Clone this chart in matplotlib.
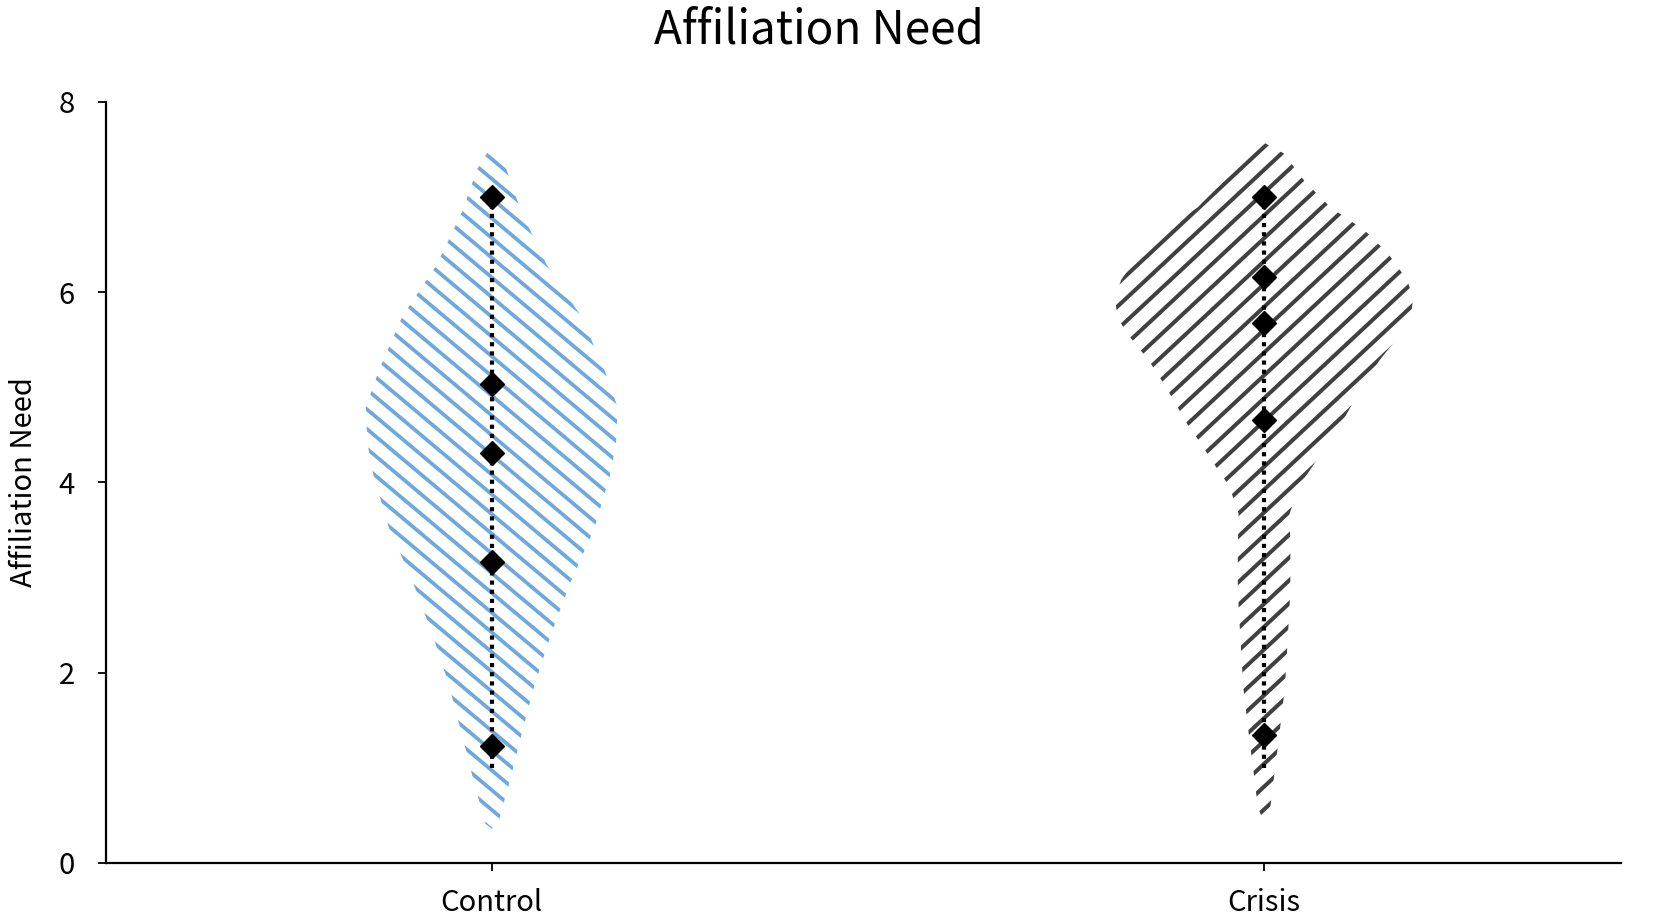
import numpy as np
import matplotlib
matplotlib.use("Agg")
import matplotlib.pyplot as plt
from matplotlib.patches import Polygon
from matplotlib.collections import LineCollection

plt.rcParams['font.family'] = ['Noto Sans CJK SC', 'DejaVu Sans']

# ---------------------------------------------------------------- data
groups = ["Control", "Crisis"]

control_points = [7.0, 5.03, 4.31, 3.16, 1.23]
crisis_points = [7.0, 6.16, 5.67, 4.66, 1.35]
control_range = [1.0, 7.0]
crisis_range = [1.0, 7.0]

# violin outlines: height and half width
control_y = [0.36, 0.41, 0.85, 1.30, 1.86, 2.41, 2.97, 3.52, 4.07, 4.41, 4.79,
             5.18, 5.74, 6.29, 6.85, 7.29, 7.54]
control_w = [0.0, 0.008, 0.023, 0.037, 0.055, 0.077, 0.103, 0.133, 0.153, 0.161,
             0.163, 0.146, 0.116, 0.071, 0.038, 0.019, 0.0]

crisis_y = [0.43, 0.58, 0.85, 1.30, 1.85, 2.41, 2.85, 3.30, 3.67, 3.96, 4.16, 4.41,
            4.62, 4.85, 5.09, 5.29, 5.57, 5.74, 5.94, 6.13, 6.40, 6.65, 6.89,
            7.16, 7.46, 7.57]
crisis_w = [0.0, 0.008, 0.012, 0.019, 0.027, 0.031, 0.034, 0.034, 0.033, 0.045,
            0.062, 0.082, 0.100, 0.116, 0.134, 0.150, 0.178, 0.190, 0.193, 0.185,
            0.161, 0.130, 0.086, 0.053, 0.025, 0.0]

# ---------------------------------------------------------------- figure
W, H, DPI = 1654, 917, 100
fig = plt.figure(figsize=(W / DPI, H / DPI), dpi=DPI)
pos = [0.0638, 0.0589, 0.9162, 0.8301]
ax = fig.add_axes(pos)
xlim = (-0.5, 1.462)
ylim = (0, 8)

ppx = pos[2] * W / (xlim[1] - xlim[0])
ppy = pos[3] * H / (ylim[1] - ylim[0])


def hatch_violin(xc, ys, ws, color, angle, step_px, lw, direction):
    ys = np.asarray(ys)
    ws = np.asarray(ws)
    verts = list(zip(xc + ws, ys)) + list(zip(xc - ws[::-1], ys[::-1]))
    poly = Polygon(verts, closed=True, fc="none", ec="none")
    ax.add_patch(poly)
    t = np.tan(np.radians(angle))
    slope = direction * t * ppx / ppy
    dy = step_px * t / ppy
    half = 0.3
    segs = [[(xc - half, y0 - slope * half), (xc + half, y0 + slope * half)]
            for y0 in np.arange(-4, 12, dy)]
    lc = LineCollection(segs, colors=color, linewidths=lw, capstyle="butt")
    lc.set_clip_path(poly)
    ax.add_collection(lc, autolim=False)


hatch_violin(0, control_y, control_w, "#6fa8dc", 40, 23.5, 2.7, -1)
hatch_violin(1, crisis_y, crisis_w, "#404040", 43, 24.5, 2.9, 1)

for i, (pts, rng) in enumerate([(control_points, control_range),
                                (crisis_points, crisis_range)]):
    ax.plot([i, i], rng, color="black", lw=3.0, linestyle=(0, (1, 1.2)), zorder=3)
    ax.plot([i] * len(pts), pts, linestyle="none", marker="D", ms=12,
            color="black", zorder=4)

ax.set_xlim(*xlim)
ax.set_ylim(*ylim)
ax.set_xticks([0, 1], groups)
ax.set_yticks([0, 2, 4, 6, 8])
ax.spines["top"].set_visible(False)
ax.spines["right"].set_visible(False)
for s in ["left", "bottom"]:
    ax.spines[s].set_linewidth(1.6)
ax.tick_params(axis="y", length=6, width=1.3, pad=16, labelsize=21)
ax.tick_params(axis="x", length=6, width=1.3, pad=12, labelsize=21)
ax.set_ylabel("Affiliation Need", fontsize=21, labelpad=14)
fig.text(0.495, 0.953, "Affiliation Need", fontsize=33, ha="center", va="baseline")

fig.savefig("out.png", dpi=DPI)
